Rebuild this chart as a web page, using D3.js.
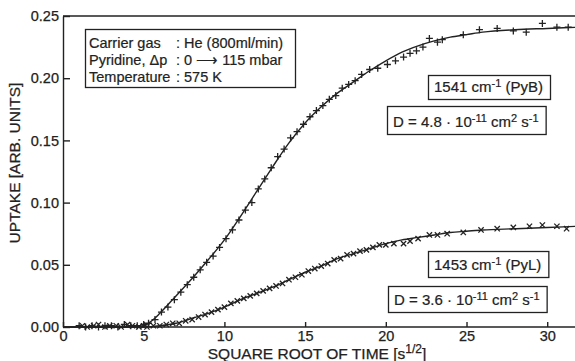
<!DOCTYPE html>
<html>
<head>
<meta charset="utf-8">
<script src="https://cdn.jsdelivr.net/npm/d3@7"></script>
<style>
  html, body { margin: 0; padding: 0; background: #fff; }
  svg { display: block; font-family: "Liberation Sans", Arial, sans-serif; }
</style>
</head>
<body>
<div id="chart"></div>
<script>
// PyB (1541 cm-1) measured points, [sqrt(t), uptake]
const pybPoints = [
  [1.0, 0.001], [1.4, 0.000], [1.8, 0.001], [2.2, 0.000], [2.6, 0.001], [3.0, 0.001],
  [3.4, 0.000], [3.8, 0.002], [4.2, 0.001], [4.6, 0.001], [5.0, 0.002],
  [5.3, 0.003], [5.7, 0.006], [6.1, 0.012], [6.5, 0.016], [6.9, 0.022], [7.3, 0.028],
  [7.7, 0.034], [8.1, 0.040], [8.5, 0.046], [8.9, 0.052], [9.3, 0.057], [9.7, 0.064],
  [10.1, 0.071], [10.5, 0.078], [10.9, 0.086], [11.3, 0.094], [11.7, 0.100], [12.1, 0.111],
  [12.5, 0.119], [12.9, 0.128], [13.3, 0.137], [13.7, 0.143], [14.1, 0.152], [14.5, 0.157],
  [14.9, 0.163], [15.3, 0.169], [15.7, 0.174], [16.1, 0.178], [16.5, 0.183], [16.9, 0.186],
  [17.3, 0.192], [17.7, 0.195], [18.1, 0.198], [18.5, 0.203], [19.0, 0.207], [19.5, 0.208],
  [20.1, 0.211], [20.6, 0.214], [21.1, 0.217], [21.5, 0.220], [21.9, 0.222], [22.3, 0.225],
  [22.7, 0.232], [23.2, 0.229], [23.5, 0.231], [24.8, 0.235], [25.8, 0.239], [26.9, 0.240],
  [27.9, 0.238], [28.7, 0.237], [29.7, 0.244], [30.6, 0.241], [31.3, 0.241]
];

// PyB diffusion fit curve
const pybFit = [
  [0, 0], [4, 0], [5, 0.001], [5.5, 0.005], [6, 0.011], [7, 0.025], [8, 0.039], [9, 0.054],
  [10, 0.070], [11, 0.089], [12, 0.109], [13, 0.129], [14, 0.148], [15, 0.164], [16, 0.177],
  [17, 0.188], [18, 0.197], [19, 0.206], [20, 0.214], [21, 0.221], [22, 0.226], [23, 0.230],
  [24, 0.233], [25, 0.235], [26, 0.237], [28, 0.239], [30, 0.240], [32, 0.241]
];

// PyL (1453 cm-1) measured points
const pylPoints = [
  [1.2, 0.001], [1.5, 0.000], [1.9, 0.001], [2.2, 0.002], [2.6, 0.000], [2.9, 0.001],
  [3.3, 0.001], [3.6, 0.000], [4.0, 0.002], [4.3, 0.001], [4.7, 0.000], [5.0, 0.001],
  [5.2, 0.000], [5.6, 0.001], [6.0, 0.001], [6.4, 0.002], [6.8, 0.003], [7.2, 0.003],
  [7.6, 0.005], [8.0, 0.006], [8.4, 0.008], [8.8, 0.010], [9.2, 0.012], [9.6, 0.014],
  [10.0, 0.016], [10.4, 0.019], [10.8, 0.021], [11.2, 0.023], [11.6, 0.025], [12.0, 0.027],
  [12.4, 0.029], [12.8, 0.031], [13.2, 0.033], [13.6, 0.035], [14.0, 0.038], [14.4, 0.040],
  [14.8, 0.042], [15.2, 0.045], [15.6, 0.047], [16.0, 0.049], [16.4, 0.051], [16.8, 0.054],
  [17.2, 0.055], [17.6, 0.058], [18.0, 0.059], [18.4, 0.061], [18.8, 0.062], [19.2, 0.064],
  [19.6, 0.066], [20.0, 0.066], [20.5, 0.067], [21.1, 0.067], [21.5, 0.069], [22.0, 0.071],
  [22.7, 0.074], [23.2, 0.074], [23.8, 0.075], [24.8, 0.076], [25.9, 0.078], [26.9, 0.079],
  [27.9, 0.080], [28.9, 0.081], [29.7, 0.082], [30.6, 0.081], [31.2, 0.079]
];

// PyL diffusion fit curve
const pylFit = [
  [0, 0], [5, 0], [6, 0.001], [7, 0.003], [8, 0.007], [9, 0.011], [10, 0.016], [11, 0.022],
  [12, 0.027], [13, 0.032], [14, 0.038], [15, 0.044], [16, 0.049], [17, 0.055], [18, 0.059],
  [19, 0.063], [20, 0.067], [21, 0.070], [22, 0.072], [23, 0.074], [24, 0.076], [25, 0.077],
  [26, 0.078], [28, 0.079], [30, 0.080], [32, 0.081]
];

const xTicks = [0, 5, 10, 15, 20, 25, 30];
const yTicks = [0, 0.05, 0.10, 0.15, 0.20, 0.25];

const conditionLabels = ["Carrier gas", "Pyridine, \u0394p", "Temperature"];
const conditionValues = [": He (800ml/min)", ": 0 \u27f6 115 mbar", ": 575 K"];

const width = 575;
const height = 361;
const ink = "#222";

const svg = d3.select("#chart").append("svg")
  .attr("width", width)
  .attr("height", height);

const x = d3.scaleLinear().domain([0, 32]).range([63, 579.5]);
const y = d3.scaleLinear().domain([0, 0.25]).range([327, 16]);

// frame
svg.append("line")
  .attr("x1", x(0)).attr("x2", width + 5)
  .attr("y1", y(0.25)).attr("y2", y(0.25))
  .attr("stroke", ink).attr("stroke-width", 1.4);

const yAxis = svg.append("g")
  .attr("transform", `translate(${x(0)},0)`)
  .call(d3.axisLeft(y).tickValues(yTicks).tickFormat(d3.format(".2f"))
    .tickSizeInner(-7).tickSizeOuter(0).tickPadding(4));

const xAxis = svg.append("g")
  .attr("transform", `translate(0,${y(0)})`)
  .call(d3.axisBottom(x).tickValues(xTicks).tickFormat(d3.format("d"))
    .tickSizeInner(-5).tickSizeOuter(0).tickPadding(4));

xAxis.select(".domain").attr("d", `M${x(0)},0H${width + 5}`);

[yAxis, xAxis].forEach(g => {
  g.attr("font-family", null).attr("font-size", null);
  g.selectAll(".domain, .tick line").attr("stroke", ink).attr("stroke-width", 1.4);
  g.selectAll("text").attr("fill", ink).style("font-size", "14.5px")
    .attr("stroke", ink).attr("stroke-width", 0.25);
});

// axis titles
const xTitle = svg.append("text")
  .attr("x", 317).attr("y", 358.5)
  .attr("text-anchor", "middle")
  .attr("fill", ink).attr("stroke", ink).attr("stroke-width", 0.25)
  .style("font-size", "15.5px");
xTitle.append("tspan").text("SQUARE ROOT OF TIME [s");
xTitle.append("tspan").attr("dy", -6).style("font-size", "12px").text("1/2");
xTitle.append("tspan").attr("dy", 6).text("]");

svg.append("text")
  .attr("transform", "translate(20,163) rotate(-90)")
  .attr("text-anchor", "middle")
  .attr("fill", ink).attr("stroke", ink).attr("stroke-width", 0.25)
  .style("font-size", "15.5px")
  .text("UPTAKE [ARB. UNITS]");

// fit curves
const line = d3.line()
  .x(d => x(d[0]))
  .y(d => y(d[1]))
  .curve(d3.curveMonotoneX);

[pybFit, pylFit].forEach(fit => {
  svg.append("path")
    .datum(fit)
    .attr("fill", "none")
    .attr("stroke", ink)
    .attr("stroke-width", 1.4)
    .attr("d", line);
});

// markers
const plus = d3.symbol(d3.symbolPlus, 18);
const times = d3.symbol(d3.symbolTimes, 20);

svg.append("g").selectAll("path")
  .data(pybPoints)
  .join("path")
  .attr("transform", d => `translate(${x(d[0])},${y(d[1])})`)
  .attr("d", plus)
  .attr("fill", "none")
  .attr("stroke", ink)
  .attr("stroke-width", 1.3);

svg.append("g").selectAll("path")
  .data(pylPoints)
  .join("path")
  .attr("transform", d => `translate(${x(d[0])},${y(d[1])})`)
  .attr("d", times)
  .attr("fill", "none")
  .attr("stroke", ink)
  .attr("stroke-width", 1.3);

// conditions box
svg.append("rect")
  .attr("x", 85.5).attr("y", 29.5).attr("width", 210).attr("height", 58)
  .attr("fill", "#fff").attr("stroke", ink).attr("stroke-width", 1.3);

conditionLabels.forEach((label, i) => {
  svg.append("text").attr("x", 89).attr("y", 47.5 + i * 17.3)
    .attr("fill", ink).attr("stroke", ink).attr("stroke-width", 0.2)
    .style("font-size", "14.5px").text(label);
  svg.append("text").attr("x", 176).attr("y", 47.5 + i * 17.3)
    .attr("fill", ink).attr("stroke", ink).attr("stroke-width", 0.2)
    .style("font-size", "14.5px").text(conditionValues[i]);
});

// labelled boxes with superscripts, sized to their text
function labelBox(bx, by, bh, parts) {
  const g = svg.append("g");
  const rect = g.append("rect");
  const t = g.append("text")
    .attr("x", bx + 6).attr("y", by + bh - 7)
    .attr("fill", ink).attr("stroke", ink).attr("stroke-width", 0.2)
    .style("font-size", "15px");
  let raised = false;
  parts.forEach(([str, sup]) => {
    const dy = sup && !raised ? -5 : (!sup && raised ? 5 : 0);
    raised = sup;
    t.append("tspan").attr("dy", dy).style("font-size", sup ? "11px" : "15px").text(str);
  });
  const len = t.node().getComputedTextLength();
  rect.attr("x", bx + 0.5).attr("y", by + 0.5).attr("width", len + 13).attr("height", bh)
    .attr("fill", "#fff").attr("stroke", ink).attr("stroke-width", 1.3);
}

labelBox(428, 75, 24, [["1541 cm", false], ["-1", true], [" (PyB)", false]]);
labelBox(387, 106, 28, [["D = 4.8 \u00b7 10", false], ["-11", true], [" cm", false], ["2", true], [" s", false], ["-1", true]]);
labelBox(428, 251, 26, [["1453 cm", false], ["-1", true], [" (PyL)", false]]);
labelBox(388, 286, 26, [["D = 3.6 \u00b7 10", false], ["-11", true], [" cm", false], ["2", true], [" s", false], ["-1", true]]);
</script>
</body>
</html>
